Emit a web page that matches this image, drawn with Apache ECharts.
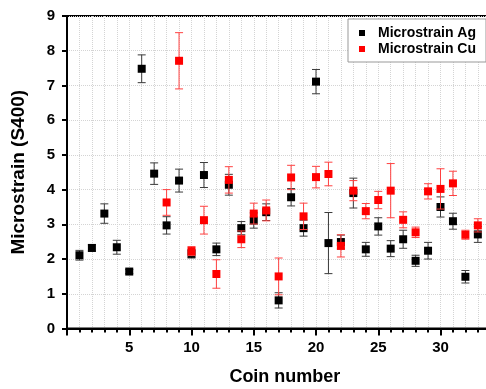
<!DOCTYPE html>
<html>
<head>
<meta charset="utf-8">
<script src="https://cdn.jsdelivr.net/npm/echarts@6/dist/echarts.min.js"></script>
<style>html,body{margin:0;padding:0;background:#fff;}#c{width:486px;height:389px;}</style>
</head>
<body>
<div id="c"></div>
<script>
const agCoins = [1,2,3,4,5,6,7,8,9,10,11,12,13,14,15,16,17,18,19,20,21,22,23,24,25,26,27,28,29,30,31,32,33];
const agValues = [2.11,2.32,3.31,2.34,1.64,7.48,4.46,2.97,4.26,2.15,4.42,2.28,4.14,2.89,3.11,3.35,0.81,3.78,2.89,7.11,2.46,2.49,3.90,2.28,2.94,2.30,2.57,1.95,2.24,3.50,3.09,1.49,2.71];
const agErrors = [0.14,0.09,0.28,0.20,0.06,0.40,0.31,0.25,0.33,0.12,0.36,0.18,0.30,0.19,0.22,0.24,0.22,0.25,0.23,0.35,0.88,0.20,0.43,0.20,0.25,0.23,0.26,0.16,0.24,0.29,0.23,0.18,0.23];
const cuCoins = [8,9,10,11,12,13,14,15,16,17,18,19,20,21,22,23,24,25,26,27,28,29,30,31,32,33];
const cuValues = [3.63,7.71,2.23,3.12,1.57,4.28,2.57,3.31,3.40,1.50,4.35,3.23,4.36,4.45,2.38,3.97,3.38,3.70,3.97,3.13,2.77,3.95,4.02,4.18,2.70,2.97];
const cuErrors = [0.37,0.81,0.13,0.40,0.41,0.38,0.24,0.30,0.30,0.53,0.35,0.38,0.31,0.34,0.32,0.29,0.22,0.25,0.78,0.23,0.15,0.22,0.58,0.35,0.13,0.19];
const yTicks = [0,1,2,3,4,5,6,7,8,9];

const FONT = 'Liberation Sans, Arial, sans-serif';
function pts(xs, ys){ return xs.map((x,i)=>[x, ys[i]]); }
function errs(xs, ys, es){ return xs.map((x,i)=>[x, ys[i]-es[i], ys[i]+es[i]]); }
function errRender(color){
  return function(params, api){
    const x = api.value(0);
    const lo = api.coord([x, api.value(1)]);
    const hi = api.coord([x, api.value(2)]);
    const cw = 4;
    const st = {stroke: color, lineWidth: 1};
    return {type:'group', children:[
      {type:'line', shape:{x1:lo[0], y1:lo[1], x2:hi[0], y2:hi[1]}, style:st},
      {type:'line', shape:{x1:lo[0]-cw, y1:lo[1], x2:lo[0]+cw, y2:lo[1]}, style:st},
      {type:'line', shape:{x1:hi[0]-cw, y1:hi[1], x2:hi[0]+cw, y2:hi[1]}, style:st}
    ]};
  };
}
const chart = echarts.init(document.getElementById('c'), null, {renderer:'canvas'});
chart.setOption({
  animation: false,
  backgroundColor: '#fff',
  grid: {left: 67, top: 16, width: 435.75, height: 312.5, outerBoundsMode: 'none', containLabel: false,
    show: true, borderColor: '#000', borderWidth: 2},
  legend: {
    orient: 'vertical', left: 348, top: 19, width: 135,
    padding: [7, 10, 6, 11], itemGap: 2,
    borderColor: '#999', borderWidth: 1, backgroundColor: '#fff',
    itemWidth: 6, itemHeight: 6, icon: 'rect',
    textStyle: {fontFamily: FONT, fontWeight: 'bold', fontSize: 14, color: '#000', padding: [0,0,0,8]},
    data: ['Microstrain Ag', 'Microstrain Cu']
  },
  xAxis: {
    type: 'value', min: 0, max: 35, interval: 5,
    name: 'Coin number', nameLocation: 'middle', nameGap: 40,
    nameTextStyle: {fontFamily: FONT, fontWeight: 'bold', fontSize: 18, color: '#000'},
    axisLine: {onZero: false, lineStyle: {color: '#000', width: 2}},
    axisTick: {show: true, inside: false, length: 7, lineStyle: {color: '#000', width: 2}},
    minorTick: {show: true, splitNumber: 5, length: 4, lineStyle: {color: '#000', width: 2}},
    splitLine: {show: true, lineStyle: {color: '#d4d4d4', type: 'dotted', width: 1}},
    minorSplitLine: {show: true, lineStyle: {color: '#d4d4d4', type: 'dotted', width: 1}},
    axisLabel: {margin: 12, fontFamily: FONT, fontWeight: 'bold', fontSize: 15, color: '#000', showMinLabel: false,
      formatter: v => (v > 0 && v < 35 && v % 5 === 0) ? String(v) : ''}
  },
  yAxis: {
    type: 'value', min: yTicks[0], max: yTicks[yTicks.length-1], interval: 1,
    name: 'Microstrain (S400)', nameLocation: 'middle', nameGap: 39,
    nameTextStyle: {fontFamily: FONT, fontWeight: 'bold', fontSize: 19, color: '#000'},
    axisLine: {show: true, onZero: false, lineStyle: {color: '#000', width: 2}},
    axisTick: {show: true, inside: false, length: 5, lineStyle: {color: '#000', width: 2}},
    splitLine: {show: true, lineStyle: {color: '#d4d4d4', type: 'dotted', width: 1}},
    axisLabel: {margin: 12, fontFamily: FONT, fontWeight: 'bold', fontSize: 15, color: '#000'}
  },
  series: [
    {type: 'custom', name: 'agErr', renderItem: errRender('#3a3a3a'), data: errs(agCoins, agValues, agErrors), z: 2, silent: true},
    {type: 'scatter', name: 'Microstrain Ag', symbol: 'rect', symbolSize: 8, itemStyle: {color: '#000', opacity: 1}, data: pts(agCoins, agValues), z: 3},
    {type: 'custom', name: 'cuErr', renderItem: errRender('#ff4040'), data: errs(cuCoins, cuValues, cuErrors), z: 4, silent: true},
    {type: 'scatter', name: 'Microstrain Cu', symbol: 'rect', symbolSize: 8, itemStyle: {color: '#ff0000', opacity: 1}, data: pts(cuCoins, cuValues), z: 5}
  ]
});
</script>
</body>
</html>
